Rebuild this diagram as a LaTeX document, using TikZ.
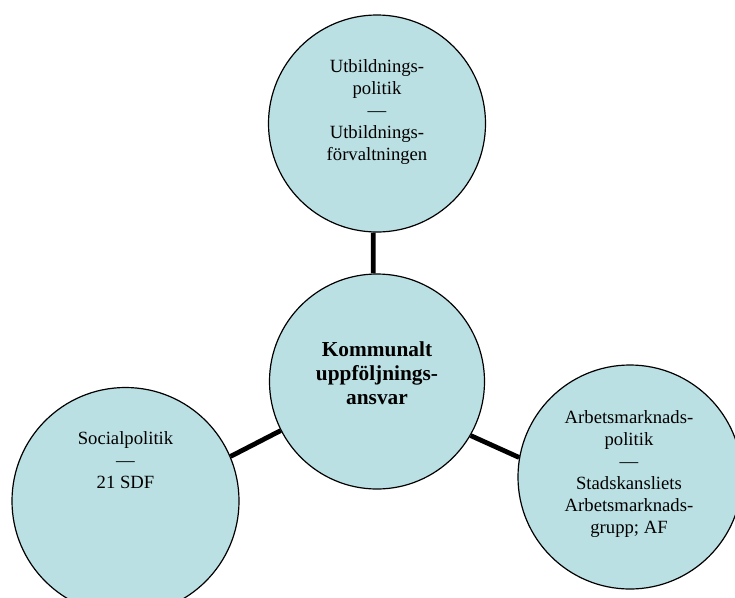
\documentclass[tikz,border=0pt]{standalone}
\usepackage{fontspec}
\setmainfont{Liberation Serif}
\definecolor{bubblefill}{RGB}{187,224,227}
\begin{document}
\begin{tikzpicture}[x=0.75pt,y=-0.75pt,
  bubble/.style={circle,draw=black,line width=0.9pt,fill=bubblefill,inner sep=0pt},
  spoke/.style={line width=3.6pt},
  txt/.style={align=center,inner sep=0pt,font=\fontsize{14}{16.5}\selectfont},
  hubtxt/.style={align=center,inner sep=0pt,font=\fontsize{16}{18}\selectfont\bfseries}]
\useasboundingbox (0,0) rectangle (735,597);
\clip (0,0) rectangle (735,597);
% the four circles
\node [bubble,minimum size=162.75pt] (util) at (377,123.5) {};
\node [bubble,minimum size=161.25pt] (hub) at (377,381.5) {};
\node [bubble,minimum size=170.25pt] (social) at (125.5,501) {};
\node [bubble,minimum size=168pt] (work) at (630,477) {};
% texts
\node [txt] (util-text) at (377,112) {Utbildnings-\\politik\\—\\Utbildnings-\\förvaltningen};
\node [hubtxt] (hub-text) at (377,373.5) {Kommunalt\\uppföljnings-\\ansvar};
\node [txt] (social-text) at (125.5,460) {Socialpolitik\\—\\21 SDF};
\node [txt] (work-text) at (629,474) {Arbetsmarknads-\\politik\\—\\Stadskansliets\\Arbetsmarknads-\\grupp; AF};
% spokes
\draw [spoke] (hub.92) -- (util.-92);
\draw [spoke] (hub.207) -- (social.23);
\draw [spoke] (hub.-30) -- (work.170);
\end{tikzpicture}
\end{document}
